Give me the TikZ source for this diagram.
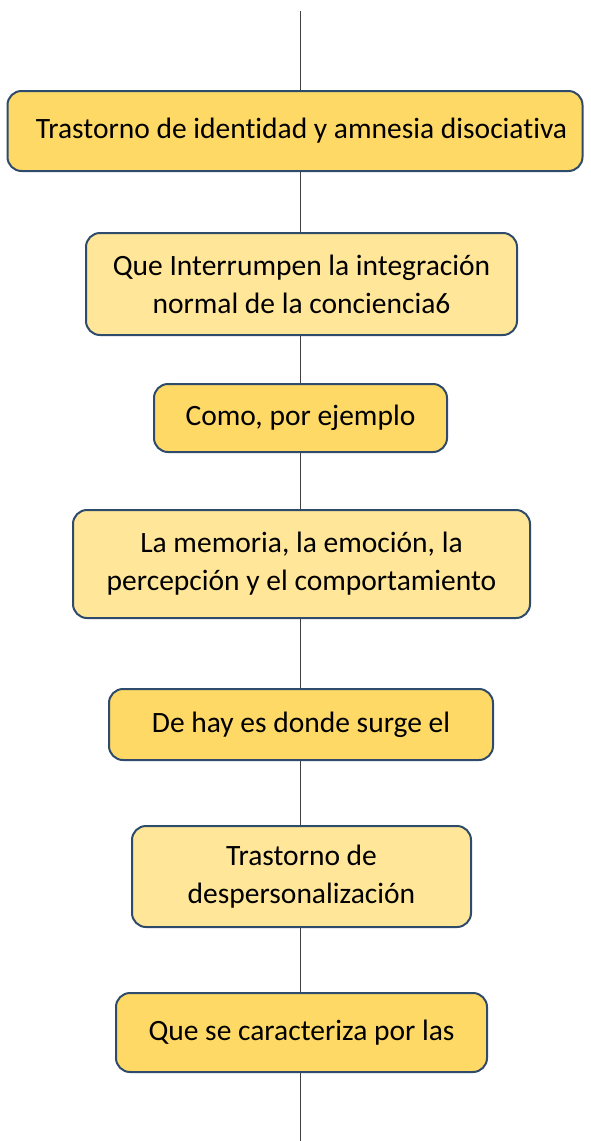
\documentclass[tikz,border=0pt]{standalone}
\usepackage{fontspec}
\setmainfont[Ligatures=NoCommon]{Carlito}
\definecolor{darkfill}{HTML}{FFD966}
\definecolor{lightfill}{HTML}{FFE699}
\definecolor{boxborder}{HTML}{2E4B6B}
\definecolor{linkcol}{HTML}{404040}
\begin{document}
\begin{tikzpicture}[x=1pt,y=-1pt,
  box/.style={draw=boxborder, line width=2pt, rounded corners=14pt, align=center,
    inner sep=0pt, font=\fontsize{29.5}{38}\selectfont, text=black},
  darkbox/.style={box, fill=darkfill},
  lightbox/.style={box, fill=lightfill},
  link/.style={draw=linkcol, line width=1.5pt}]
\useasboundingbox (0,0) rectangle (590,1141);
\node[darkbox, minimum width=575pt, minimum height=80pt] (b1) at (295,131) {\hspace*{13pt}Trastorno de identidad y amnesia disociativa};
\node[lightbox, minimum width=431pt, minimum height=102pt] (b2) at (301.5,284) {Que Interrumpen la integración\\normal de la conciencia6};
\node[darkbox, minimum width=293pt, minimum height=68pt] (b3) at (300.5,418) {Como, por ejemplo};
\node[lightbox, minimum width=457pt, minimum height=108pt] (b4) at (301.5,564) {La memoria, la emoción, la\\percepción y el comportamiento};
\node[darkbox, minimum width=384pt, minimum height=71pt] (b5) at (301,724.5) {De hay es donde surge el};
\node[lightbox, minimum width=339pt, minimum height=101pt] (b6) at (301.5,876.5) {Trastorno de\\despersonalización};
\node[darkbox, minimum width=371pt, minimum height=79pt] (b7) at (301.5,1032.5) {Que se caracteriza por las};
\coordinate (top) at (300.5,11);
\coordinate (bottom) at (300.5,1141);
\draw[link] (top) -- (b1.north -| top);
\draw[link] (b1.south -| top) -- (b2.north -| top);
\draw[link] (b2.south -| top) -- (b3.north -| top);
\draw[link] (b3.south -| top) -- (b4.north -| top);
\draw[link] (b4.south -| top) -- (b5.north -| top);
\draw[link] (b5.south -| top) -- (b6.north -| top);
\draw[link] (b6.south -| top) -- (b7.north -| top);
\draw[link] (b7.south -| top) -- (bottom);
\end{tikzpicture}
\end{document}
